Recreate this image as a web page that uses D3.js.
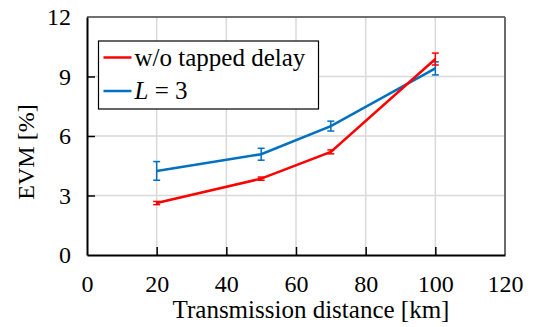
<!DOCTYPE html>
<meta charset="utf-8">
<script src="https://d3js.org/d3.v7.min.js"></script>
<div id="c"></div>
<script>
// data
var distances = [20, 50, 70, 100];
var evmNoDelay = [2.62, 3.85, 5.2, 9.88];
var errNoDelay = [0.08, 0.08, 0.1, 0.3];
var evmL3 = [4.24, 5.08, 6.5, 9.41];
var errL3 = [0.47, 0.3, 0.25, 0.33];
var xTicks = [0, 20, 40, 60, 80, 100, 120];
var yTicks = [0, 3, 6, 9, 12];
var seriesNames = ["w/o tapped delay", "L = 3"];

var W = 536, H = 327;
var margin = {top: 17, right: 31, bottom: 72, left: 87};
var width = W - margin.left - margin.right,
    height = H - margin.top - margin.bottom;

var svg = d3.select("#c").append("svg")
  .attr("width", W).attr("height", H)
  .style("position", "absolute").style("left", "0px").style("top", "0px");
var g = svg.append("g")
  .attr("transform", "translate(" + margin.left + "," + margin.top + ")");

var x = d3.scaleLinear().domain([0, 120]).range([0, width]);
var y = d3.scaleLinear().domain([0, 12]).range([height, 0]);

function serif(sel, size) {
  return sel.style("font-family", "'Liberation Serif'").style("font-size", size + "px");
}

// grid
g.selectAll(".vg").data(xTicks.slice(1, -1)).enter().append("line")
  .attr("x1", d => x(d)).attr("x2", d => x(d))
  .attr("y1", 0).attr("y2", height)
  .attr("stroke", "#d9d9d9").attr("stroke-width", 1.5);
g.selectAll(".hg").data(yTicks.slice(1, -1)).enter().append("line")
  .attr("x1", 0).attr("x2", width)
  .attr("y1", d => y(d)).attr("y2", d => y(d))
  .attr("stroke", "#d9d9d9").attr("stroke-width", 1.5);

// frame: top/right grey, left/bottom black
g.append("line").attr("x1", 0).attr("x2", width).attr("y1", 0).attr("y2", 0)
  .attr("stroke", "#404040").attr("stroke-width", 1.5);
g.append("line").attr("x1", width).attr("x2", width).attr("y1", 0).attr("y2", height)
  .attr("stroke", "#6b6b6b").attr("stroke-width", 2);

// axes with inward ticks
var xAxis = g.append("g").attr("transform", "translate(0," + height + ")")
  .call(d3.axisBottom(x).tickValues(xTicks).tickSizeInner(-8).tickSizeOuter(0).tickPadding(20));
var yAxis = g.append("g")
  .call(d3.axisLeft(y).tickValues(yTicks).tickSizeInner(-8).tickSizeOuter(0).tickPadding(16));
[xAxis, yAxis].forEach(function(a) {
  a.select(".domain").attr("stroke", "#000").attr("stroke-width", 2);
  a.selectAll(".tick line").attr("stroke", "#000").attr("stroke-width", 1.5);
  serif(a.selectAll("text"), 24).attr("fill", "#000");
});
xAxis.selectAll(".tick").filter(d => d === 0 || d === 120).select("line").remove();
yAxis.selectAll(".tick").filter(d => d === 0 || d === 12).select("line").remove();
xAxis.selectAll("text").attr("dy", "0.71em");

// series
var series = [
  {name: seriesNames[0], color: "#ff0000", vals: evmNoDelay, errs: errNoDelay},
  {name: seriesNames[1], color: "#0070c0", vals: evmL3, errs: errL3}
];
var line = d3.line().x(d => x(d.x)).y(d => y(d.y));

// blue first so red sits on top
series.slice().reverse().forEach(function(s) {
  var pts = distances.map((d, i) => ({x: d, y: s.vals[i], e: s.errs[i]}));
  g.append("path").datum(pts).attr("d", line)
    .attr("fill", "none").attr("stroke", s.color).attr("stroke-width", 2.5);
  var eb = g.append("g").attr("stroke", s.color).attr("stroke-width", 1.5);
  pts.forEach(function(p) {
    eb.append("line").attr("x1", x(p.x)).attr("x2", x(p.x))
      .attr("y1", y(p.y - p.e)).attr("y2", y(p.y + p.e));
    [p.y - p.e, p.y + p.e].forEach(function(v) {
      eb.append("line").attr("x1", x(p.x) - 3.5).attr("x2", x(p.x) + 3.5)
        .attr("y1", y(v)).attr("y2", y(v));
    });
  });
});

// axis titles
serif(svg.append("text"), 25).attr("x", margin.left + width / 2 + 15).attr("y", 318)
  .attr("text-anchor", "middle")
  .text("Transmission distance [km]");
serif(svg.append("text"), 24).attr("transform", "translate(34,152) rotate(-90)")
  .attr("text-anchor", "middle")
  .text("EVM [%]");

// legend
var lg = svg.append("g").attr("transform", "translate(98.5,41)");
lg.append("rect").attr("width", 220).attr("height", 68)
  .attr("fill", "#fff").attr("stroke", "#000").attr("stroke-width", 1.2);
series.forEach(function(s, i) {
  var yy = 16.5 + i * 33.5;
  lg.append("line").attr("x1", 5).attr("x2", 33).attr("y1", yy).attr("y2", yy)
    .attr("stroke", s.color).attr("stroke-width", 2.5);
  var t = serif(lg.append("text"), 25).attr("x", 36).attr("y", yy + 8);
  if (i === 0) {
    t.text(s.name);
  } else {
    t.append("tspan").style("font-style", "italic").text("L");
    t.append("tspan").text(" = 3");
  }
});
</script>
